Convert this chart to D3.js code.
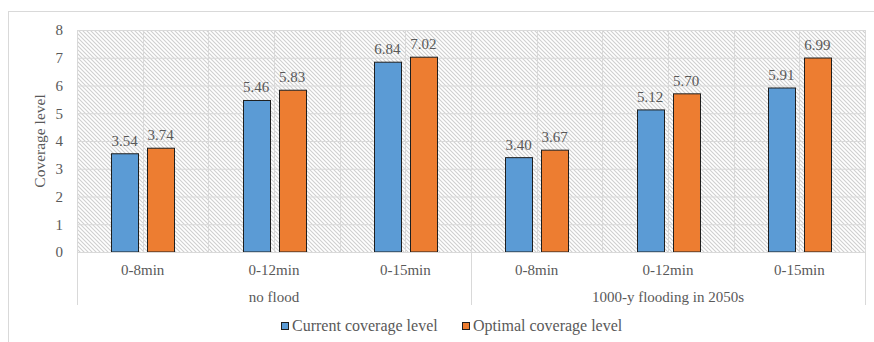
<!DOCTYPE html>
<html><head><meta charset="utf-8">
<script src="https://cdn.jsdelivr.net/npm/d3@7"></script>
<style>body{margin:0;background:#fff}text{font-family:"Liberation Serif","Times New Roman",serif;fill:#595959}</style>
</head><body>
<svg id="c" width="874" height="342"></svg>
<script>
const groups = ["no flood", "1000-y flooding in 2050s"];
const subcats = ["0-8min", "0-12min", "0-15min"];
const seriesNames = ["Current coverage level", "Optimal coverage level"];
const currentVals = [3.54, 5.46, 6.84, 3.40, 5.12, 5.91];
const optimalVals = [3.74, 5.83, 7.02, 3.67, 5.70, 6.99];
const yTicks = [0,1,2,3,4,5,6,7,8];
const colors = ["#5B9BD5", "#ED7D31"];

const svg = d3.select("#c");
const L = 77, R = 865, T = 30, B = 252;

// outer border
svg.append("rect").attr("x",8.5).attr("y",11.5).attr("width",880).attr("height",340)
  .attr("fill","#fff").attr("stroke","#d9d9d9");

const defs = svg.append("defs");
const pat = defs.append("pattern").attr("id","hatch").attr("patternUnits","userSpaceOnUse")
  .attr("width",4).attr("height",4);
pat.append("rect").attr("width",4).attr("height",4).attr("fill","#fff");
pat.append("path").attr("d","M-1,-1L5,5M-1,3L1,5M3,-1L5,1").attr("stroke","#cfcfcf").attr("stroke-width",1.1);

const cats = [];
groups.forEach((g,gi)=>subcats.forEach((s,si)=>cats.push({key:gi+"|"+s, group:g, sub:s, i:gi*3+si})));

const x0 = d3.scaleBand().domain(cats.map(c=>c.key)).range([L,R]);
const x1 = d3.scaleBand().domain(seriesNames).range([-31.5,31.5]).paddingInner(0.25);
const y = d3.scaleLinear().domain([0,8]).range([B,T]);

// plot background
svg.append("rect").attr("x",L).attr("y",T).attr("width",R-L).attr("height",B-T).attr("fill","url(#hatch)");

// horizontal grid
svg.append("g").selectAll("line").data(yTicks).join("line")
  .attr("x1",L).attr("x2",R).attr("y1",d=>y(d)+0.5).attr("y2",d=>y(d)+0.5)
  .attr("stroke","#d9d9d9").attr("stroke-width",1);
// vertical grid at half categories
const vlines = [];
cats.forEach(c=>{ vlines.push(x0(c.key)); vlines.push(x0(c.key)+x0.bandwidth()/2); });
vlines.push(R);
svg.append("g").selectAll("line").data(vlines).join("line")
  .attr("x1",d=>Math.round(d)+0.5).attr("x2",d=>Math.round(d)+0.5).attr("y1",T).attr("y2",B)
  .attr("stroke","#d9d9d9");

// y axis labels
const yAxis = d3.axisLeft(y).tickValues(yTicks).tickSize(0).tickPadding(0).tickFormat(d3.format("d"));
const ya = svg.append("g").attr("transform",`translate(${L-14},0)`).call(yAxis);
ya.select(".domain").remove();
ya.selectAll("text").style("font-size","15px").attr("fill","#595959").style("font-family","Liberation Serif");

svg.append("text").attr("transform",`translate(45,${(T+B)/2}) rotate(-90)`).attr("text-anchor","middle")
  .style("font-size","15.5px").text("Coverage level");

// bars
const data = [];
cats.forEach(c=>{
  data.push({c, s:seriesNames[0], v:currentVals[c.i]});
  data.push({c, s:seriesNames[1], v:optimalVals[c.i]});
});
const cx = c => x0(c.key)+x0.bandwidth()/2;
svg.append("g").selectAll("rect").data(data).join("rect")
  .attr("x",d=>Math.round(cx(d.c)+x1(d.s))+0.5).attr("width",x1.bandwidth())
  .attr("y",d=>y(d.v)).attr("height",d=>B-y(d.v))
  .attr("fill",d=>colors[seriesNames.indexOf(d.s)]).attr("stroke","#1e1e1e").attr("stroke-width",1);
svg.append("g").selectAll("text").data(data).join("text")
  .attr("x",d=>cx(d.c)+x1(d.s)+x1.bandwidth()/2).attr("y",d=>y(d.v)-8)
  .attr("text-anchor","middle").style("font-size","15px").text(d=>d.v.toFixed(2));

// baseline
svg.append("line").attr("x1",L).attr("x2",R).attr("y1",B+0.5).attr("y2",B+0.5).attr("stroke","#d9d9d9");

// category labels
svg.append("g").selectAll("text").data(cats).join("text")
  .attr("x",d=>cx(d)).attr("y",275).attr("text-anchor","middle").style("font-size","15px").text(d=>d.sub);
// group labels and separators
const gw = (R-L)/groups.length;
svg.append("g").selectAll("text").data(groups).join("text")
  .attr("x",(d,i)=>L+gw*i+gw/2).attr("y",302).attr("text-anchor","middle").style("font-size","15px").text(d=>d);
const seps = [x0(cats[0].key), x0(cats[3].key), R];
svg.append("g").selectAll("line").data(seps).join("line")
  .attr("x1",d=>Math.round(d)+0.5).attr("x2",d=>Math.round(d)+0.5).attr("y1",B).attr("y2",305)
  .attr("stroke","#d9d9d9");

// legend
const legX = [281, 462];
const lg = svg.append("g").selectAll("g").data(seriesNames).join("g")
  .attr("transform",(d,i)=>`translate(${legX[i]},0)`);
lg.append("rect").attr("x",0.5).attr("y",322.5).attr("width",7).attr("height",7)
  .attr("fill",(d,i)=>colors[i]).attr("stroke","#1e1e1e");
lg.append("text").attr("x",11).attr("y",331).style("font-size","16px").text(d=>d);
</script>
</body></html>
